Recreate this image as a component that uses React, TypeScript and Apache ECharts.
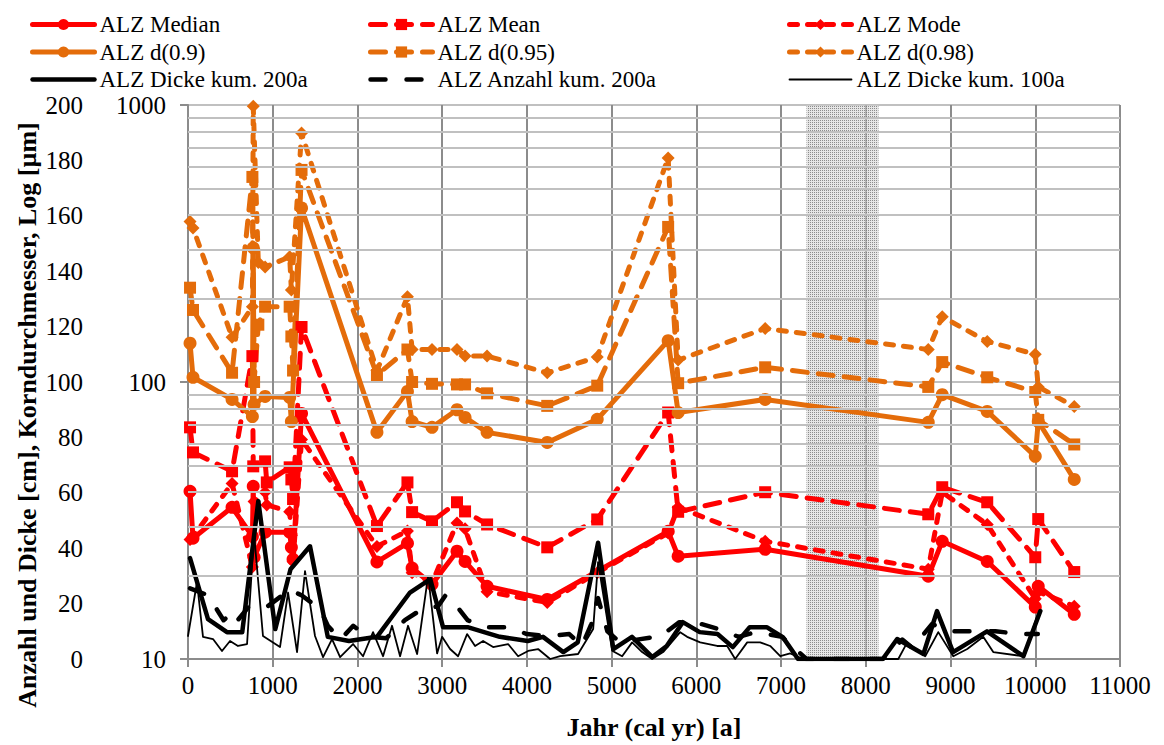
import React, { useEffect, useRef } from 'react';
import * as echarts from 'echarts';

const FONT = 'Liberation Serif, Times New Roman, serif';
const RED = '#FF0000';
const ORANGE = '#E46C0A';

const xTicks = [0, 11000, 1000];
const linTicks = [0, 200, 20];
const logRange = [10, 1000];
const minorGrid = [20, 30, 40, 50, 60, 70, 80, 90, 200, 300, 400, 500, 600, 700, 800, 900];
const gapRange = [7300, 8150];

const median = [[24,40.3],[59,27.3],[520,35.3],[760,27.7],[770,42],[780,23.3],[910,28.7],[1200,28.7],[1220,25.3],[1240,22.9],[1340,77],[2230,22.4],[2590,26.2],[2645,21.3],[2880,18.6],[3175,24.5],[3270,22.5],[3530,18.3],[4240,16.4],[5667,28.9],[5785,23.5],[6812,24.9],[8737,19.9],[8902,26.6],[9433,22.5],[10000,15.4],[10035,18.3],[10460,14.5]];
const mean = [[24,68.6],[59,55.7],[520,47.6],[760,124],[770,49.6],[910,51.7],[930,43.4],[1200,49.2],[1220,44.5],[1240,37.8],[1340,158],[2230,30.2],[2590,43.4],[2645,33.9],[2880,31.4],[3175,36.8],[3270,34.1],[3530,30.6],[4240,25.3],[4830,31.9],[5667,77.6],[5785,34],[6812,40],[8737,33.3],[8902,41.7],[9433,36.8],[10000,23.3],[10035,32],[10460,20.6]];
const mode = [[24,27],[59,27.7],[520,43],[760,21.5],[780,37],[910,40],[930,36],[1200,34],[1220,28],[1240,22.5],[1340,62],[2230,25.5],[2590,29],[2645,20.5],[2880,18.8],[3175,31],[3270,29.5],[3530,17.5],[4240,16],[4830,20.5],[5667,28.5],[5785,35.3],[6812,26.6],[8737,21.1],[8902,40],[9433,30.6],[10000,16.5],[10035,17.5],[10460,15.5]];
const d09 = [[24,138],[59,104],[520,86.5],[760,75],[770,305],[780,83],[910,88.7],[1200,88],[1220,72],[1340,425],[2230,65.8],[2590,92.5],[2645,72],[2880,68.6],[3175,79.4],[3270,74.5],[3530,65.8],[4240,60.5],[4830,73.3],[5667,141],[5785,77.6],[6812,86.5],[8737,71.5],[8902,90],[9433,78.3],[10000,53.9],[10035,72],[10460,44.5]];
const d095 = [[24,219],[59,182],[520,108],[760,550],[780,100],[830,161],[910,187],[1200,187],[1220,146],[1240,110],[1340,583],[2230,106],[2590,131],[2645,100],[2880,98.5],[3175,98],[3270,98],[3530,91],[4240,82],[4830,97],[5667,363],[5785,99],[6812,113],[8737,96],[8902,118],[9433,104],[10000,92],[10035,73],[10460,59.5]];
const d098 = [[24,380],[59,360],[520,145],[760,187],[770,990],[830,270],[910,260],[1200,283],[1220,215],[1340,793],[2230,110],[2590,203],[2645,131],[2880,131],[3175,131],[3270,124],[3530,124],[4240,108],[4830,123],[5667,644],[5785,120],[6812,156],[8737,131],[8902,172],[9433,140],[10000,126],[10035,96],[10460,81.6]];
const dicke200 = [[24,36.4],[236,14.4],[460,9.7],[640,9.7],[830,57],[1030,10.8],[1210,32.4],[1440,40.7],[1650,8],[1900,6.5],[2230,8],[2620,24],[2860,28.8],[3010,11.5],[3300,11.5],[3680,8],[4010,6.5],[4190,8],[4430,2.5],[4600,6],[4840,42],[5020,3.6],[5240,8],[5480,0.7],[5650,4.7],[5840,13.3],[6040,9.7],[6250,9],[6430,4.3],[6630,11.5],[6830,11.5],[7020,7.9],[7200,0],[8200,0],[8370,7.2],[8680,1.8],[8840,17.3],[9030,2.5],[9430,10],[9860,1],[10060,17.3]];
const anzahl200 = [[24,25.5],[236,23],[420,14],[500,16],[560,13],[720,19],[940,19],[1200,25],[1340,23],[1560,18],[1650,12],[1800,7],[1950,12],[2120,8],[2340,7.5],[2560,14],[2760,18],[2950,19],[3040,23],[3200,18],[3300,14],[3500,11.5],[3780,11.5],[4000,9],[4250,8.3],[4500,9],[4650,4.7],[4760,12.6],[4840,22],[4950,10],[5100,6],[5300,7],[5580,8.3],[5800,13.3],[6060,12.6],[6260,10.8],[6500,8],[6700,9.7],[7010,8],[7130,4.7],[7300,0],[8200,0],[8430,7],[8550,4],[8780,12.6],[8990,10],[9380,10],[9530,10],[9830,9],[10030,9]];
const dicke100 = [[0,8.3],[106,27.7],[177,8],[295,7.2],[401,2.9],[496,6.5],[590,4.7],[697,5.4],[780,45],[885,8.3],[1086,4.3],[1181,24],[1287,2.5],[1381,31.7],[1499,8.3],[1594,0.7],[1700,7.2],[1795,0.7],[1948,5.4],[2066,1],[2184,9.7],[2302,1],[2408,12],[2503,1],[2597,12],[2704,1.8],[2834,30],[2940,2],[2999,8],[3093,3.6],[3188,1],[3294,9],[3388,4.7],[3483,6.5],[3601,4.3],[3778,5.4],[3896,1],[4014,2.9],[4132,3.6],[4274,0],[4392,1],[4604,1.8],[4782,10.8],[4840,35],[5006,3],[5124,1],[5242,6],[5360,2.5],[5478,0],[5608,2.5],[5809,9.7],[5891,8],[6045,6],[6245,4.7],[6364,4.7],[6458,0],[6600,6],[6753,6],[6871,4.7],[6990,1],[7107,2],[7261,0],[8383,0],[8489,6],[8701,1],[8855,9.7],[9032,1],[9197,3.6],[9386,8],[9504,2.5],[9858,1],[10024,15.5]];

const legendCols = [
  ['ALZ Median', 'ALZ d(0.9)', 'ALZ Dicke kum. 200a'],
  ['ALZ Mean', 'ALZ d(0.95)', 'ALZ Anzahl kum. 200a'],
  ['ALZ Mode', 'ALZ d(0.98)', 'ALZ Dicke kum. 100a'],
];
const noMarker = ['ALZ Dicke kum. 200a', 'ALZ Anzahl kum. 200a', 'ALZ Dicke kum. 100a'];

function makePattern() {
  const c = document.createElement('canvas');
  c.width = 4; c.height = 4;
  const ctx = c.getContext('2d')!;
  ctx.fillStyle = 'rgba(210,210,210,0.55)';
  ctx.fillRect(0, 0, 4, 4);
  ctx.fillStyle = 'rgba(110,110,110,0.75)';
  ctx.fillRect(0, 0, 1, 1);
  ctx.fillRect(2, 2, 1, 1);
  ctx.fillRect(2, 0, 1, 1);
  ctx.fillRect(0, 2, 1, 1);
  return c;
}

export default function App() {
  const ref = useRef<HTMLDivElement>(null);
  useEffect(() => {
    const chart = echarts.init(ref.current!, null, { renderer: 'svg' });
    const logLine = (name: string, data: number[][], color: string, symbol: string, size: number, dash: any) => ({
      name, type: 'line', data, yAxisIndex: 0, symbol, symbolSize: size,
      itemStyle: { color }, lineStyle: { color, width: 5, type: dash, cap: 'round', join: 'round' },
      z: 3,
    });
    const blackLine = (name: string, data: number[][], width: number, dash: any) => ({
      name, type: 'line', data, yAxisIndex: 1, symbol: 'none',
      itemStyle: { color: '#000' }, lineStyle: { color: '#000', width, type: dash, cap: 'round', join: 'round' },
      z: 4,
    });
    let pattern: any = 'rgba(170,170,170,0.45)';
    try { pattern = { image: makePattern(), repeat: 'repeat' }; } catch (e) {}
    const legendBase = {
      orient: 'vertical', top: 13, padding: 0, itemWidth: 62, itemHeight: 14, itemGap: 4.5,
      lineStyle: { width: 'inherit' },
      textStyle: { fontFamily: FONT, fontSize: 23, color: '#000', lineHeight: 23 },
    };
    const legendData = (names: string[]) => names.map((n) =>
      noMarker.includes(n) ? { name: n, itemStyle: { opacity: 0 } } : { name: n });
    chart.setOption({
      animation: false,
      backgroundColor: '#fff',
      textStyle: { fontFamily: FONT },
      grid: { left: 188, right: 44, top: 105, bottom: 85 },
      legend: [
        { ...legendBase, left: 30, data: legendData(legendCols[0]) },
        { ...legendBase, left: 368, data: legendData(legendCols[1]) },
        { ...legendBase, left: 787, data: legendData(legendCols[2]) },
      ],
      xAxis: {
        type: 'value', min: xTicks[0], max: xTicks[1], interval: xTicks[2],
        name: 'Jahr (cal yr) [a]', nameLocation: 'middle', nameGap: 55,
        nameTextStyle: { fontFamily: FONT, fontSize: 26, fontWeight: 'bold', color: '#000' },
        axisLine: { lineStyle: { color: '#8c8c8c', width: 2 } },
        axisTick: { show: true, length: 8, lineStyle: { color: '#8c8c8c', width: 2 } },
        axisLabel: { fontFamily: FONT, fontSize: 25, color: '#000', margin: 14, formatter: (v: number) => String(Math.round(v)) },
        splitLine: { show: true, lineStyle: { color: '#8c8c8c', width: 2 } },
      },
      yAxis: [
        {
          type: 'log', logBase: 10, min: logRange[0], max: logRange[1], position: 'left',
          axisLine: { show: true, lineStyle: { color: '#8c8c8c', width: 2 } },
          axisTick: { show: true, length: 8, lineStyle: { color: '#8c8c8c', width: 2 } },
          axisLabel: { fontFamily: FONT, fontSize: 25, color: '#000', margin: 22, formatter: (v: number) => String(Math.round(v)) },
          splitLine: { show: true, lineStyle: { color: '#c0c0c0', width: 2 } },
        },
        {
          type: 'value', min: linTicks[0], max: linTicks[1], interval: linTicks[2], position: 'left',
          axisLine: { show: false }, axisTick: { show: false }, splitLine: { show: false },
          axisLabel: { fontFamily: FONT, fontSize: 25, color: '#000', margin: 105 },
        },
      ],
      graphic: [
        {
          type: 'text', x: 27, y: 415, rotation: Math.PI / 2,
          style: {
            text: 'Anzahl und Dicke [cm], Korndurchmesser, Log [µm]',
            font: `bold 26px ${FONT}`, fill: '#000', align: 'center', verticalAlign: 'middle',
          },
        },
      ],
      series: [
        {
          name: '_grid', type: 'line', yAxisIndex: 0, data: [], z: 1, silent: true,
          markLine: {
            silent: true, symbol: ['none', 'none'], label: { show: false },
            lineStyle: { color: '#c0c0c0', width: 2, type: 'solid' },
            data: minorGrid.map((v) => ({ yAxis: v })),
          },
        },
        logLine('ALZ Median', median, RED, 'circle', 13, 'solid'),
        logLine('ALZ Mean', mean, RED, 'rect', 12, [15, 11]),
        logLine('ALZ Mode', mode, RED, 'diamond', 13, [8, 10]),
        logLine('ALZ d(0.9)', d09, ORANGE, 'circle', 13, 'solid'),
        logLine('ALZ d(0.95)', d095, ORANGE, 'rect', 12, [15, 11]),
        logLine('ALZ d(0.98)', d098, ORANGE, 'diamond', 13, [8, 10]),
        blackLine('ALZ Dicke kum. 200a', dicke200, 4.5, 'solid'),
        blackLine('ALZ Anzahl kum. 200a', anzahl200, 4.5, [15, 21]),
        blackLine('ALZ Dicke kum. 100a', dicke100, 1.8, 'solid'),
        {
          name: '_shade', type: 'line', yAxisIndex: 1, data: [], z: 6, silent: true,
          markArea: {
            silent: true,
            itemStyle: { color: pattern },
            data: [[{ xAxis: gapRange[0] }, { xAxis: gapRange[1] }]],
          },
        },
      ],
    });
    return () => chart.dispose();
  }, []);
  return <div ref={ref} style={{ position: 'fixed', left: 0, top: 0, width: 1164, height: 745 }} />;
}
